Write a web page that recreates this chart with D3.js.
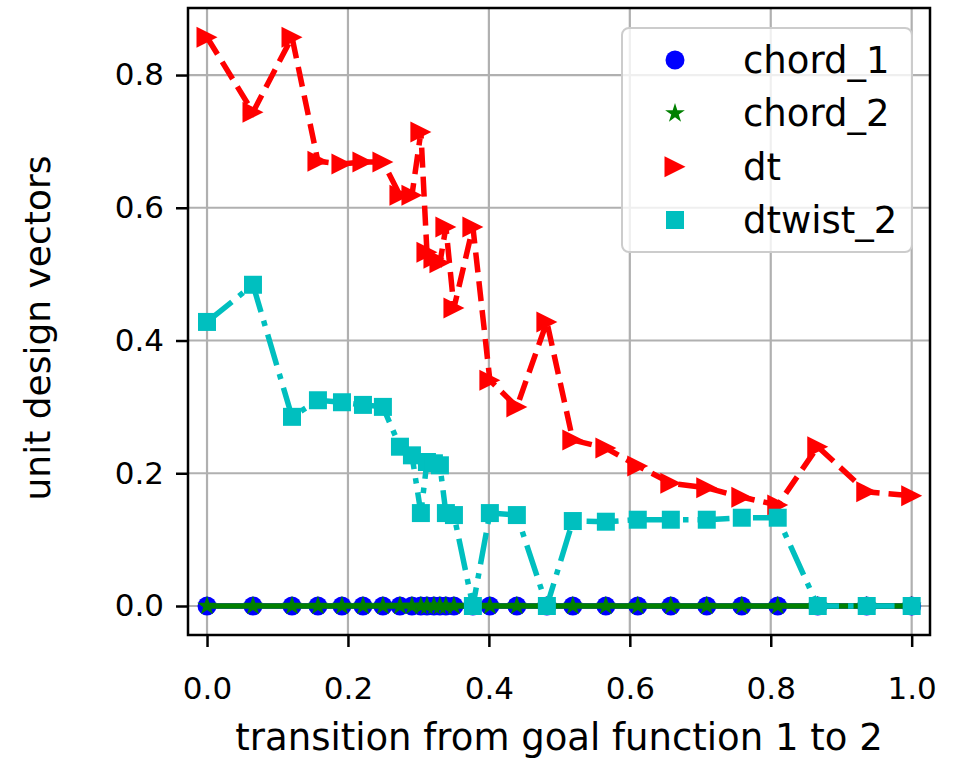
<!DOCTYPE html>
<html lang="en">
<head>
<meta charset="utf-8">
<title>unit design vectors</title>
<script src="https://cdn.jsdelivr.net/npm/d3@7"></script>
<style>
  body { margin: 0; background: #fff; }
  text { font-family: "DejaVu Sans", sans-serif; fill: #000; }
</style>
</head>
<body>
<script>
// shared x positions of the sweep
var xVals = [0, 0.0652, 0.1206, 0.1574, 0.1915, 0.2213, 0.2496, 0.2738, 0.2908, 0.3035,
             0.3121, 0.322, 0.3305, 0.339, 0.3504, 0.3773, 0.4014, 0.4397, 0.4823, 0.5191,
             0.566, 0.6113, 0.6582, 0.7092, 0.7589, 0.8099, 0.8667, 0.9362, 1.0];
var chord1 = [0,0,0,0,0,0,0,0,0,0,0,0,0,0,0,0,0,0,0,0,0,0,0,0,0,0,0,0,0];
var chord2 = [0,0,0,0,0,0,0,0,0,0,0,0,0,0,0,0,0,0,0,0,0,0,0,0,0,0,0,0,0];
var dt = [0.857, 0.744, 0.857, 0.670, 0.666, 0.669, 0.669, 0.619, 0.619, 0.714,
          0.533, 0.524, 0.517, 0.571, 0.449, 0.571, 0.340, 0.300, 0.428, 0.250,
          0.238, 0.211, 0.185, 0.178, 0.164, 0.152, 0.240, 0.172, 0.166];
var dtwist2 = [0.428, 0.484, 0.285, 0.310, 0.307, 0.303, 0.300, 0.240, 0.227, 0.140,
               0.217, 0.215, 0.212, 0.140, 0.137, 0, 0.140, 0.137, 0, 0.128,
               0.127, 0.130, 0.130, 0.130, 0.133, 0.133, 0, 0, 0];
var xTicks = [0, 0.2, 0.4, 0.6, 0.8, 1.0];
var yTicks = [0, 0.2, 0.4, 0.6, 0.8];
var seriesNames = ["chord_1", "chord_2", "dt", "dtwist_2"];

var W = 954, H = 777,
    pL = 188, pR = 930, pT = 8, pB = 635;

var svg = d3.select("body").append("svg")
    .attr("width", W).attr("height", H);

var x = d3.scaleLinear().domain([-0.027, 1.026]).range([pL, pR]);
var y = d3.scaleLinear().domain([-0.0437, 0.901]).range([pB, pT]);

// grid
var grid = svg.append("g").attr("stroke", "#b0b0b0").attr("stroke-width", 2.2);
grid.selectAll(".gx").data(xTicks).enter().append("line")
    .attr("x1", function(d){ return x(d); }).attr("x2", function(d){ return x(d); })
    .attr("y1", pT).attr("y2", pB);
grid.selectAll(".gy").data(yTicks).enter().append("line")
    .attr("y1", function(d){ return y(d); }).attr("y2", function(d){ return y(d); })
    .attr("x1", pL).attr("x2", pR);

// marker shapes
function triRight(s) {
  return "M" + s + ",0L" + (-s) + "," + (-s) + "L" + (-s) + "," + s + "Z";
}
var shapes = {
  "chord_1": function(){ return d3.symbol(d3.symbolCircle, Math.PI * 9.5 * 9.5)(); },
  "chord_2": function(){ return d3.symbol(d3.symbolStar, 120)(); },
  "dt": function(){ return triRight(10.5); },
  "dtwist_2": function(){ return d3.symbol(d3.symbolSquare, 18 * 18)(); }
};
var series = [
  {name: "chord_1", values: chord1, color: "#0000ff", dash: null},
  {name: "chord_2", values: chord2, color: "#008000", dash: null},
  {name: "dt", values: dt, color: "#ff0000", dash: "20,9"},
  {name: "dtwist_2", values: dtwist2, color: "#00bfbf", dash: "32,9,5.5,9"}
];

svg.append("clipPath").attr("id", "clip").append("rect")
    .attr("x", pL).attr("y", pT).attr("width", pR - pL).attr("height", pB - pT);

var line = d3.line()
    .x(function(d){ return x(d[0]); })
    .y(function(d){ return y(d[1]); });

series.forEach(function(s) {
  var pts = xVals.map(function(v, i){ return [v, s.values[i]]; });
  var g = svg.append("g");
  g.append("path")
    .attr("clip-path", "url(#clip)")
    .attr("d", line(pts))
    .attr("fill", "none")
    .attr("stroke", s.color)
    .attr("stroke-width", 5.5)
    .attr("stroke-dasharray", s.dash);
  g.selectAll("path.m").data(pts).enter().append("path")
    .attr("class", "m")
    .attr("d", shapes[s.name]())
    .attr("transform", function(d){ return "translate(" + x(d[0]) + "," + y(d[1]) + ")"; })
    .attr("fill", s.color);
});

// axes
var xAxis = svg.append("g").attr("transform", "translate(0," + pB + ")")
    .call(d3.axisBottom(x).tickValues(xTicks).tickFormat(d3.format(".1f")).tickSize(12).tickPadding(30));
var yAxis = svg.append("g").attr("transform", "translate(" + pL + ",0)")
    .call(d3.axisLeft(y).tickValues(yTicks).tickFormat(d3.format(".1f")).tickSize(12).tickPadding(12));
[xAxis, yAxis].forEach(function(a) {
  a.select(".domain").remove();
  a.selectAll(".tick line").attr("stroke", "#000").attr("stroke-width", 2.5);
  a.selectAll(".tick text").attr("font-family", "DejaVu Sans").attr("font-size", 31);
});

// frame
svg.append("rect")
    .attr("x", pL).attr("y", pT).attr("width", pR - pL).attr("height", pB - pT)
    .attr("fill", "none").attr("stroke", "#000").attr("stroke-width", 2.5);

// axis labels
svg.append("text")
    .attr("x", (pL + pR) / 2).attr("y", 750)
    .attr("text-anchor", "middle").attr("font-size", 37)
    .text("transition from goal function 1 to 2");
svg.append("text")
    .attr("transform", "translate(50,328) rotate(-90)")
    .attr("text-anchor", "middle").attr("font-size", 36)
    .text("unit design vectors");

// legend
var leg = svg.append("g");
leg.append("rect")
    .attr("x", 622).attr("y", 28).attr("width", 290).attr("height", 224).attr("rx", 7)
    .attr("fill", "#fff").attr("fill-opacity", 0.8)
    .attr("stroke", "#cccccc").attr("stroke-width", 2);
var rowY = d3.scalePoint().domain(seriesNames).range([60, 220]);
series.forEach(function(s) {
  leg.append("path")
    .attr("d", shapes[s.name]())
    .attr("transform", "translate(675," + rowY(s.name) + ")")
    .attr("fill", s.color);
  leg.append("text")
    .attr("x", 743).attr("y", rowY(s.name)).attr("dy", "0.35em")
    .attr("font-size", 37)
    .text(s.name);
});
</script>
</body>
</html>
